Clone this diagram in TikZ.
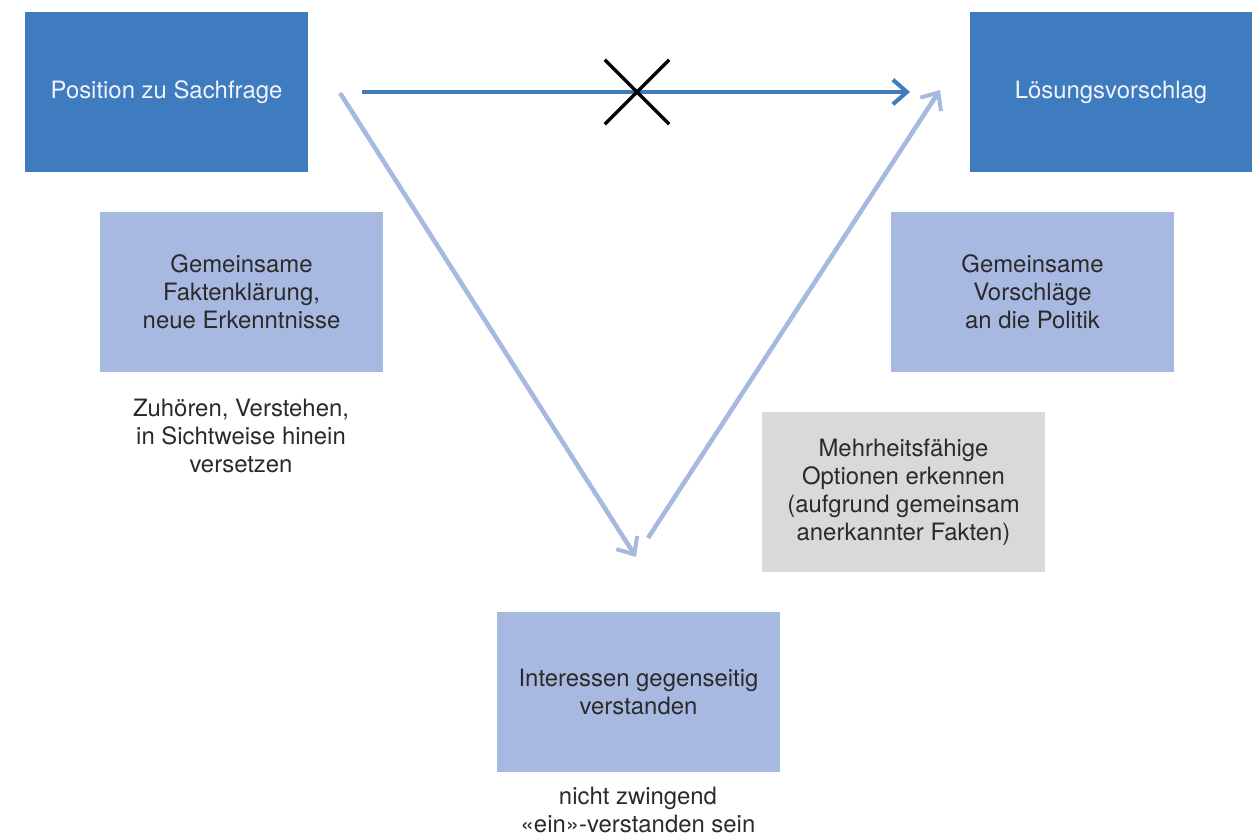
\documentclass[tikz,border=0pt]{standalone}
\usepackage{fontspec}
\setmainfont{TeX Gyre Heros}
\usetikzlibrary{arrows.meta}
\definecolor{dunkelblau}{HTML}{3F7BBF}
\definecolor{hellblau}{HTML}{A8B9E1}
\definecolor{hellgrau}{HTML}{D9D9D9}
\definecolor{schrift}{HTML}{2A2A2A}
\tikzset{
  box/.style={minimum width=5.66cm, minimum height=3.2cm, align=center,
    inner sep=0pt, text=schrift, font=\fontsize{13.6}{16}\selectfont},
  hauptbox/.style={box, fill=dunkelblau, text=white!92!dunkelblau},
  zwischenbox/.style={box, fill=hellblau},
  grauebox/.style={box, fill=hellgrau},
  notiz/.style={align=center, text=schrift, font=\fontsize{13.6}{16}\selectfont},
  pfeil/.style={-{Straight Barb[length=8pt,width=14pt,line width=2.3pt]}},
}
\begin{document}
\begin{tikzpicture}[x=0.02cm, y=-0.02cm]
  \useasboundingbox (0,0) rectangle (1259,837);

  \node[hauptbox] (pos) at (166.5,92) {Position zu Sachfrage};
  \node[hauptbox] (loes) at (1111,92) {Lösungsvorschlag};
  \node[zwischenbox] (fakt) at (241.5,292) {Gemeinsame\\Faktenklärung,\\neue Erkenntnisse};
  \node[zwischenbox] (vorschl) at (1032.5,292) {Gemeinsame\\Vorschläge\\an die Politik};
  \node[grauebox] (mehr) at (903.5,492) {Mehrheitsfähige\\Optionen erkennen\\(aufgrund gemeinsam\\anerkannter Fakten)};
  \node[zwischenbox] (inter) at (638.5,692) {Interessen gegenseitig\\verstanden};

  \node[notiz] (zuh) at (241,436) {Zuhören, Verstehen,\\in Sichtweise hinein\\versetzen};
  \node[notiz] (nicht) at (638,810) {nicht zwingend\\«ein»-verstanden sein};

  % Pfeile
  \coordinate (a1) at (362,92);
  \coordinate (a2) at (910,92);
  \coordinate (b1) at (340,93);
  \coordinate (b2) at (636,557);
  \coordinate (c1) at (648,538);
  \coordinate (c2) at (940,90);
  \draw[pfeil, dunkelblau, line width=2.2pt] (a1) -- (a2);
  \draw[pfeil, hellblau, line width=2.6pt] (b1) -- (b2);
  \draw[pfeil, hellblau, line width=2.6pt] (c1) -- (c2);

  % Kreuz
  \coordinate (x) at (637,92);
  \foreach \w in {45,135}
    \draw[black, line width=2pt] (x) -- ++(\w:0.91cm) (x) -- ++(\w+180:0.91cm);
\end{tikzpicture}
\end{document}
